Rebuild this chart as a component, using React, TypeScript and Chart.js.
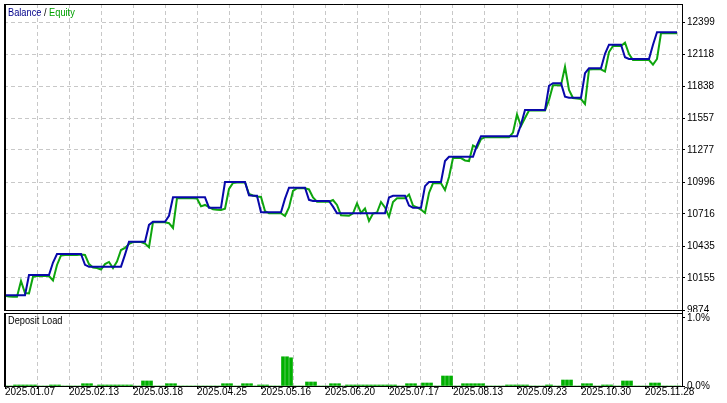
import React, { useEffect, useRef } from "react";
import { Chart, registerables } from "chart.js";

Chart.register(...registerables);

// ---------- data ----------
const dateLabels = [
  "2025.01.07", "2025.02.13", "2025.03.18", "2025.04.25", "2025.05.16", "2025.06.20",
  "2025.07.17", "2025.08.13", "2025.09.23", "2025.10.30", "2025.11.28",
];

const balanceTicks = [9874, 10155, 10435, 10716, 10996, 11277, 11557, 11838, 12118, 12399];
const loadTicks = [0, 1];

const balance = [
  10003, 10003, 10003, 10003, 10003, 10003,
  10181, 10181, 10181, 10181, 10181, 10181,
  10290,
  10365, 10365, 10365, 10365, 10365, 10365, 10365,
  10270,
  10254, 10254, 10254, 10254, 10254, 10254, 10254, 10254, 10254,
  10360,
  10473, 10473, 10473, 10473, 10473,
  10620,
  10648, 10648, 10648, 10648,
  10700,
  10862, 10862, 10862, 10862, 10862, 10862, 10862, 10862, 10862,
  10771, 10771, 10771, 10771,
  10996, 10996, 10996, 10996, 10996, 10996,
  10880, 10876, 10876,
  10731, 10731, 10731, 10731, 10731, 10731,
  10850,
  10946, 10946, 10946, 10946, 10946,
  10840, 10830, 10830, 10830, 10830, 10830,
  10780,
  10722, 10722, 10722, 10722, 10722, 10722, 10722, 10722, 10722, 10722, 10722, 10722, 10722,
  10860, 10876, 10876, 10876, 10876,
  10790,
  10771, 10771, 10771,
  10960,
  10996, 10996, 10996, 10996,
  11180,
  11218, 11218, 11218, 11218, 11218, 11218, 11218,
  11320,
  11397, 11397, 11397, 11397, 11397, 11397, 11397, 11397, 11397, 11397,
  11500,
  11627, 11627, 11627, 11627, 11627, 11627,
  11840, 11862, 11862, 11862,
  11745, 11735, 11735, 11735, 11735,
  11950, 11993, 11993, 11993, 11993,
  12120,
  12200, 12200, 12200, 12200,
  12090, 12075, 12075, 12075, 12075, 12075, 12075,
  12200,
  12309, 12309, 12309, 12309, 12309, 12309,
];

const equity = [
  9999, 9992, 9991, 9991, 10128, 10023, 10019, 10166, 10172, 10172,
  10172, 10172, 10133, 10269, 10352, 10356, 10356, 10356, 10356, 10360,
  10356, 10277, 10247, 10242, 10229, 10277, 10295, 10242, 10299, 10400,
  10418, 10453, 10470, 10470, 10470, 10457, 10424, 10644, 10643, 10643,
  10643, 10635, 10593, 10853, 10853, 10853, 10853, 10853, 10851, 10783,
  10795, 10777, 10757, 10753, 10751, 10762, 10935, 10988, 10992, 10992,
  10994, 10891, 10878, 10869, 10865, 10742, 10722, 10722, 10722, 10722,
  10698, 10773, 10918, 10942, 10942, 10942, 10931, 10860, 10823, 10823,
  10823, 10823, 10838, 10795, 10705, 10703, 10700, 10722, 10808, 10725,
  10764, 10654, 10720, 10729, 10821, 10773, 10692, 10821, 10853, 10853,
  10853, 10887, 10790, 10773, 10755, 10725, 10900, 10985, 10985, 10985,
  10926, 11040, 11206, 11206, 11206, 11185, 11180, 11316, 11297, 11373,
  11389, 11389, 11389, 11389, 11389, 11389, 11389, 11430, 11588, 11487,
  11557, 11623, 11623, 11623, 11623, 11623, 11715, 11845, 11845, 11845,
  12007, 11803, 11733, 11729, 11724, 11680, 11982, 11984, 11984, 11984,
  11965, 12136, 12189, 12189, 12189, 12218, 12118, 12066, 12066, 12066,
  12066, 12066, 12026, 12075, 12300, 12300, 12300, 12300, 12300,
];

const depositLoad = [
  0, 0, 0.015, 0.015, 0.015, 0.015, 0.015, 0.015, 0, 0,
  0, 0.015, 0.015, 0.015, 0, 0, 0, 0, 0, 0.034,
  0.034, 0.034, 0, 0.015, 0.015, 0.015, 0.015, 0.015, 0.015, 0.015,
  0.015, 0.015, 0, 0, 0.074, 0.074, 0.074, 0, 0, 0,
  0.034, 0.034, 0.034, 0, 0, 0, 0, 0, 0, 0,
  0, 0, 0, 0, 0.034, 0.034, 0.034, 0, 0, 0.034,
  0.034, 0.034, 0, 0.015, 0.015, 0.015, 0, 0, 0, 0.43,
  0.43, 0.415, 0, 0, 0, 0.059, 0.059, 0.059, 0, 0,
  0, 0.034, 0.034, 0.034, 0, 0.015, 0.015, 0.015, 0.015, 0.015,
  0.015, 0.015, 0.015, 0.015, 0.015, 0.015, 0.015, 0.015, 0, 0,
  0.034, 0.034, 0.034, 0, 0.044, 0.044, 0.044, 0, 0, 0.147,
  0.147, 0.147, 0, 0, 0.034, 0.034, 0.034, 0.034, 0.034, 0.034,
  0, 0, 0, 0, 0, 0.015, 0.015, 0.015, 0.015, 0.015,
  0.015, 0, 0, 0, 0, 0.015, 0.015, 0, 0, 0.088,
  0.088, 0.088, 0, 0, 0.034, 0.034, 0.034, 0, 0, 0.015,
  0.015, 0.015, 0, 0, 0.074, 0.074, 0.074, 0, 0, 0,
  0, 0.044, 0.044, 0.044, 0, 0, 0, 0, 0,
];

// ---------- style ----------
const FONT_FAMILY = '"Liberation Sans", Arial, sans-serif';
const BLUE = "#0808aa";
const GREEN = "#0ea50e";
const BAR_GREEN = "#00b000";
const GRID = "#c8c8c8";
const DASH = [4, 3];
const PER_GRID = 8; // samples per grid cell
const X_MIN = -0.25;
const X_MAX = 169.25;
const Y_MIN = balanceTicks[0];
const Y_MAX = 12557;
const LOAD_MAX = 1.0735;

const tickFont = { family: FONT_FAMILY, size: 10, lineHeight: 1 };

const zeroPad = (s: any) => {
  s.paddingTop = 0;
  s.paddingBottom = 0;
  s.paddingLeft = 0;
  s.paddingRight = 0;
};

const topFrame = {
  id: "topFrame",
  afterDraw(chart: any) {
    const { ctx, chartArea: a } = chart;
    ctx.save();
    ctx.strokeStyle = "#000";
    ctx.lineWidth = 1;
    ctx.beginPath();
    ctx.moveTo(a.left, a.top + 0.5);
    ctx.lineTo(a.right + 1, a.top + 0.5);
    ctx.moveTo(a.right + 0.5, a.top);
    ctx.lineTo(a.right + 0.5, chart.height);
    ctx.moveTo(a.left, a.bottom + 0.5);
    ctx.lineTo(a.right, a.bottom + 0.5);
    ctx.stroke();
    ctx.fillStyle = "#000";
    ctx.fillRect(a.left, a.top, 2, a.bottom - a.top + 1);
    ctx.restore();
  },
};

const bottomFrame = {
  id: "bottomFrame",
  afterDraw(chart: any) {
    const { ctx, chartArea: a } = chart;
    ctx.save();
    ctx.strokeStyle = "#000";
    ctx.lineWidth = 1;
    ctx.beginPath();
    ctx.moveTo(a.left, a.top + 0.5);
    ctx.lineTo(a.right, a.top + 0.5);
    ctx.moveTo(a.right + 0.5, 0);
    ctx.lineTo(a.right + 0.5, a.bottom + 1);
    ctx.moveTo(a.left, a.bottom + 0.5);
    ctx.lineTo(a.right + 1, a.bottom + 0.5);
    ctx.stroke();
    ctx.fillStyle = "#000";
    ctx.fillRect(a.left, a.top, 2, a.bottom - a.top + 1);
    ctx.restore();
  },
};

export default function App() {
  const topRef = useRef<HTMLCanvasElement>(null);
  const botRef = useRef<HTMLCanvasElement>(null);

  useEffect(() => {
    const gridCount = Math.floor(X_MAX / PER_GRID) + 1;
    const gridIdx = Array.from({ length: gridCount }, (_, k) => k * PER_GRID);

    const top = new Chart(topRef.current as HTMLCanvasElement, {
      type: "line",
      data: {
        datasets: [
          {
            label: "Balance",
            data: balance.map((v, i) => ({ x: i, y: v })),
            borderColor: BLUE,
            borderWidth: 2,
            pointRadius: 0,
            tension: 0,
            fill: false,
          },
          {
            label: "Equity",
            data: equity.map((v, i) => ({ x: i, y: v })),
            borderColor: GREEN,
            borderWidth: 2,
            pointRadius: 0,
            tension: 0,
            fill: false,
          },
        ],
      },
      options: {
        responsive: false,
        animation: false,
        devicePixelRatio: 1,
        events: [],
        layout: { padding: { left: 4, top: 4, right: 0, bottom: 2 } },
        plugins: { legend: { display: false }, tooltip: { enabled: false } },
        scales: {
          x: {
            type: "linear",
            min: X_MIN,
            max: X_MAX,
            afterBuildTicks: (s: any) => {
              s.ticks = gridIdx.filter((v) => v > 0).map((v) => ({ value: v }));
            },
            ticks: { display: false },
            grid: { color: GRID, drawTicks: false, lineWidth: 1 },
            border: { display: false, dash: DASH },
            afterFit: (s: any) => {
              s.height = 0;
              zeroPad(s);
            },
          },
          y: {
            type: "linear",
            position: "right",
            min: Y_MIN,
            max: Y_MAX,
            afterBuildTicks: (s: any) => {
              s.ticks = balanceTicks.map((v) => ({ value: v }));
            },
            ticks: {
              font: tickFont,
              color: "#000",
              padding: 2,
              callback: (v: any) => String(v),
            },
            grid: { color: GRID, tickColor: "#000", tickLength: 3, lineWidth: 1 },
            border: { display: false, dash: DASH },
            afterFit: (s: any) => {
              s.width = 45;
              zeroPad(s);
            },
          },
        },
      },
      plugins: [topFrame],
    } as any);

    const bottom = new Chart(botRef.current as HTMLCanvasElement, {
      type: "bar",
      data: {
        datasets: [
          {
            label: "Deposit Load",
            data: depositLoad.map((v, i) => ({ x: i + 0.5, y: v })),
            backgroundColor: BAR_GREEN,
            borderWidth: 0,
            barThickness: 3,
          },
        ],
      },
      options: {
        responsive: false,
        animation: false,
        devicePixelRatio: 1,
        events: [],
        layout: { padding: { left: 4, top: 1, right: 0, bottom: 0 } },
        plugins: { legend: { display: false }, tooltip: { enabled: false } },
        scales: {
          x: {
            type: "linear",
            min: X_MIN,
            max: X_MAX,
            offset: false,
            afterBuildTicks: (s: any) => {
              s.ticks = gridIdx.map((v) => ({ value: v }));
            },
            ticks: {
              font: tickFont,
              color: "#000",
              align: "start",
              padding: -2,
              autoSkip: false,
              maxRotation: 0,
              minRotation: 0,
              callback: (_v: any, idx: number) =>
                idx % 2 === 0 ? dateLabels[idx / 2] ?? "" : "",
            },
            grid: { color: GRID, tickColor: "#000", tickLength: 3, offset: false, lineWidth: 1 },
            border: { display: false, dash: DASH },
            afterFit: (s: any) => {
              s.height = 17;
              zeroPad(s);
            },
          },
          y: {
            type: "linear",
            position: "right",
            min: 0,
            max: LOAD_MAX,
            afterBuildTicks: (s: any) => {
              s.ticks = loadTicks.map((v) => ({ value: v }));
            },
            ticks: {
              font: tickFont,
              color: "#000",
              padding: 2,
              callback: (v: any) => Number(v).toFixed(1) + "%",
            },
            grid: { color: "rgba(0,0,0,0)", tickColor: "#000", tickLength: 3 },
            border: { display: false },
            afterFit: (s: any) => {
              s.width = 45;
              zeroPad(s);
            },
          },
        },
      },
      plugins: [bottomFrame],
    } as any);

    return () => {
      top.destroy();
      bottom.destroy();
    };
  }, []);

  const textStyle: React.CSSProperties = {
    position: "absolute",
    left: 8,
    fontFamily: FONT_FAMILY,
    fontSize: 11,
    lineHeight: "13px",
    whiteSpace: "nowrap",
    transform: "scaleX(0.84)",
    transformOrigin: "0 50%",
  };

  return (
    <div
      style={{
        position: "absolute",
        left: 0,
        top: 0,
        width: 727,
        height: 403,
        background: "#fff",
        overflow: "hidden",
      }}
    >
      <canvas
        ref={topRef}
        width={727}
        height={312}
        style={{ position: "absolute", left: 0, top: 0, width: 727, height: 312, display: "block" }}
      />
      <canvas
        ref={botRef}
        width={727}
        height={91}
        style={{ position: "absolute", left: 0, top: 312, width: 727, height: 91, display: "block" }}
      />
      <div style={{ ...textStyle, top: 6 }}>
        <span style={{ color: "#00008b" }}>Balance</span>
        <span style={{ color: "#000" }}> / </span>
        <span style={{ color: "#00a000" }}>Equity</span>
      </div>
      <div style={{ ...textStyle, top: 314, color: "#000" }}>Deposit Load</div>
    </div>
  );
}
